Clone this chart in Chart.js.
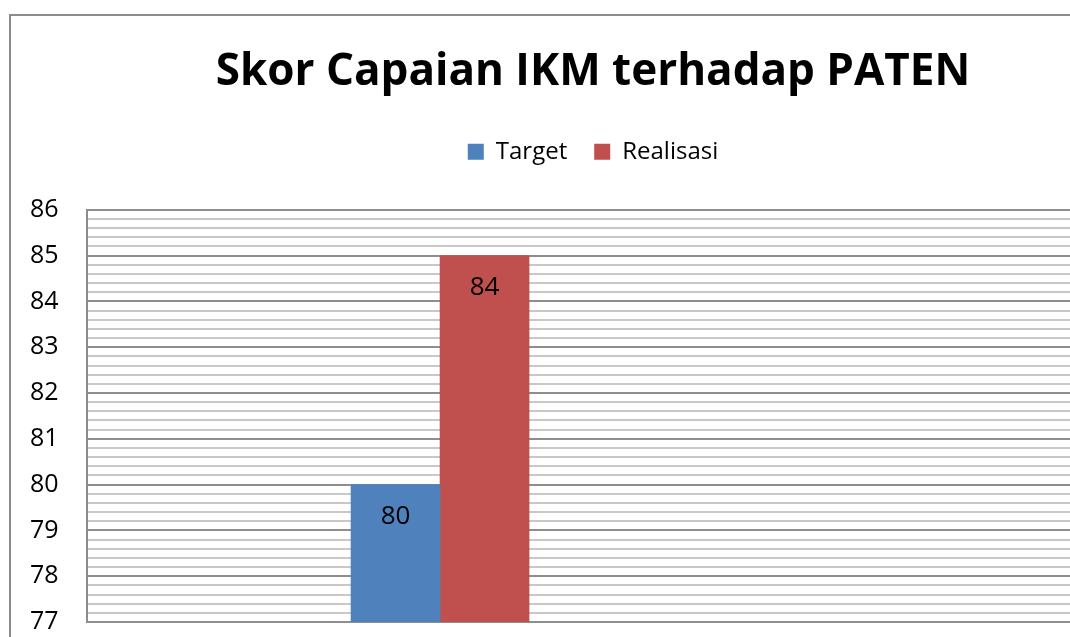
<!DOCTYPE html>
<html>
<head>
<meta charset="utf-8">
<script src="https://cdn.jsdelivr.net/npm/chart.js@4.4.0/dist/chart.umd.min.js"></script>
<style>
  html, body { margin: 0; padding: 0; background: #fff; overflow: hidden; }
  #wrap { position: relative; width: 1070px; height: 637px; overflow: hidden; }
  #frame { position: absolute; left: 9px; top: 14px; width: 1200px; height: 700px;
           border-left: 2px solid #8c8c8c; border-top: 2px solid #8c8c8c; }
  #myChart { position: absolute; left: 0; top: 0; }
</style>
</head>
<body>
<div id="wrap">
  <div id="frame"></div>
  <canvas id="myChart" width="1156" height="637"></canvas>
</div>
<script>
let categories = ['PATEN'];
let target = [80];
let realisasi = [85];
let targetLabels = ['80'];
let realisasiLabels = ['84'];

let chartTitle = 'Skor Capaian IKM terhadap PATEN';

// label tulisan di dalam batang (seperti data label Excel)
const barLabels = {
    id: 'barLabels',
    afterDatasetsDraw(chart) {
        const ctx = chart.ctx;
        ctx.save();
        ctx.font = '26px "Open Sans"';
        ctx.fillStyle = '#000';
        ctx.textAlign = 'center';
        ctx.textBaseline = 'middle';
        chart.data.datasets.forEach(function(ds, i) {
            chart.getDatasetMeta(i).data.forEach(function(bar, j) {
                ctx.fillText(ds.valueLabels[j], bar.x, bar.y + 32);
            });
        });
        ctx.restore();
    }
};

// extra ruimte onder de legenda
const legendMargin = {
    id: 'legendMargin',
    beforeInit(chart) {
        const fit = chart.legend.fit;
        chart.legend.fit = function() {
            fit.bind(chart.legend)();
            this.height += 36;
        };
    }
};

var ctx = document.getElementById('myChart').getContext('2d');
var myChart = new Chart(ctx, {
    type: 'bar',
    data: {
        labels: categories,
        datasets: [{
            label: 'Target',
            data: target.map((v, i) => ({x: i, y: v})),
            valueLabels: targetLabels,
            backgroundColor: '#4F81BD'
        },
        {
            label: 'Realisasi',
            data: realisasi.map((v, i) => ({x: i, y: v})),
            valueLabels: realisasiLabels,
            backgroundColor: '#C0504D'
        }]
    },
    plugins: [barLabels, legendMargin],
    options: {
        responsive: false,
        animation: false,
        events: [],
        barThickness: 89,
        layout: { padding: { top: 0, right: 0, bottom: 0, left: 30 } },
        plugins: {
            title: {
                display: true,
                text: chartTitle,
                color: '#000',
                font: { family: '"Open Sans"', size: 44, weight: 'bold' },
                padding: { top: 46, bottom: 14 }
            },
            legend: {
                display: true,
                position: 'top',
                labels: {
                    color: '#000',
                    font: { family: '"Open Sans"', size: 24 },
                    boxWidth: 16,
                    boxHeight: 16,
                    padding: 27
                }
            },
            tooltip: { enabled: false }
        },
        scales: {
            x: {
                type: 'linear',
                display: false,
                offset: false,
                min: -1,
                max: 2.028
            },
            y: {
                min: 77,
                max: 86,
                afterFit: function(scale) { scale.width = 57; },
                border: { display: true, color: '#8c8c8c', width: 2 },
                grid: {
                    drawTicks: false,
                    lineWidth: 2,
                    color: function(c) {
                        const v = c.tick.value;
                        return Math.abs(v - Math.round(v)) < 1e-6 ? '#8e8e8e' : '#c8c8c8';
                    }
                },
                ticks: {
                    stepSize: 0.2,
                    autoSkip: false,
                    padding: 0,
                    crossAlign: 'far',
                    color: '#000',
                    font: { family: '"Open Sans"', size: 25 },
                    callback: function(v) {
                        return Math.abs(v - Math.round(v)) < 1e-6 ? Math.round(v) : '';
                    }
                }
            }
        }
    }
});
</script>
</body>
</html>
